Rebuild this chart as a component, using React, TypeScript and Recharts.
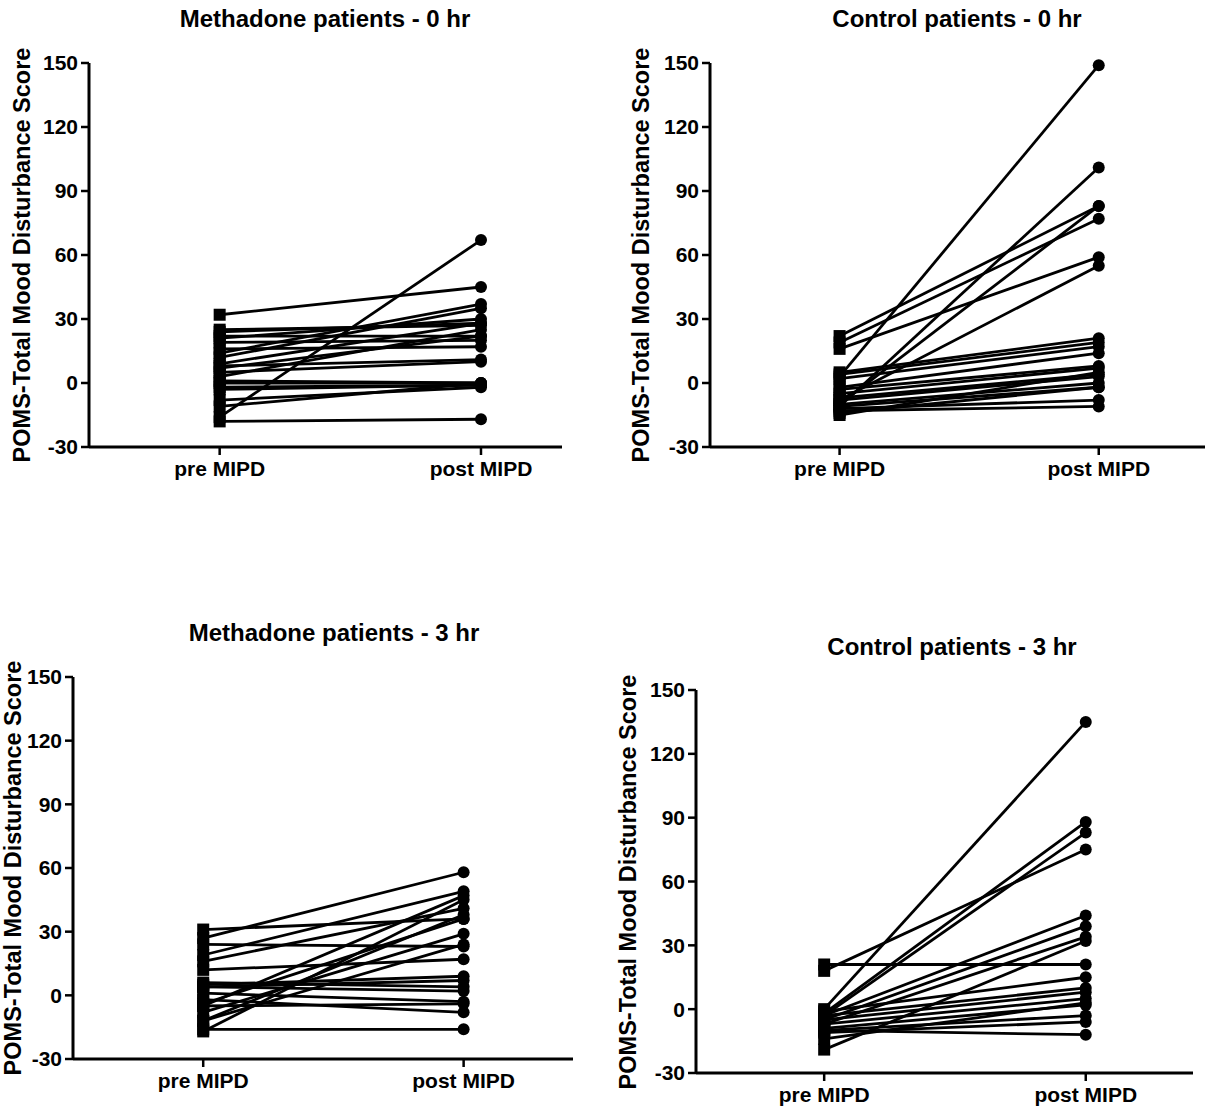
import React from 'react';
import { LineChart, Line, XAxis, YAxis } from 'recharts';

// x categories and y ticks shared by all four panels
const phases = ['pre MIPD', 'post MIPD'];
const yTicks = [-30, 0, 30, 60, 90, 120, 150];

// Methadone patients - 0 hr (one entry per patient)
const methadone0Pre = [32, -16, -18, 25, 24, 22, 21, 19, 14, 12, 9, 8, 7, 5, 3, 1, 0, -2, -3, -8, -11, 16];
const methadone0Post = [45, 67, -17, 27, 28, 22, 30, 20, 37, 35, 28, 11, 22, 10, 25, 0, 0, -1, -1, -2, 0, 17];

// Control patients - 0 hr
const control0Pre = [3, -11, -10, 22, 19, 16, -8, 5, 4, 2, -2, -3, -5, -7, -8, -10, -11, -12, -13, -14, -15];
const control0Post = [149, 101, 83, 83, 77, 59, 55, 21, 19, 17, 14, 8, 7, 4, 3, 0, -2, -8, -11, -2, 5];

// Methadone patients - 3 hr
const methadone3Pre = [31, 27, 24, 19, 16, 12, 4, 4, 1, -2, -4, -5, -8, -12, -12, -16, -17, 6, -5, 5];
const methadone3Post = [36, 58, 23, 49, 41, 17, 7, 2, -3, -8, 36, 47, 29, 24, 38, -16, 45, 4, -4, 9];

// Control patients - 3 hr
const control3Pre = [21, 18, 0, -2, -3, -3, -5, -7, -19, -1, -3, -5, -7, -9, -10, -11, -10, -14];
const control3Post = [21, 75, 135, 88, 83, 44, 39, 34, 32, 15, 10, 8, 5, 2, -3, -6, -12, 3];

const FONT = '"Liberation Sans", Arial, Helvetica, sans-serif';
const AXIS_W = 1; // yaxis width / xaxis height kept tiny so margins place the plot

// table the chart needs: one row per phase, one column per patient
function buildRows(pre: number[], post: number[]) {
  const a: any = { x: 0 };
  const b: any = { x: 1 };
  pre.forEach((v, i) => {
    a['s' + i] = v;
    b['s' + i] = post[i];
  });
  return [a, b];
}

// square for pre, circle for post
function PairDot(props: any) {
  const { cx, cy, payload, index } = props;
  if (cx == null || cy == null) return null;
  if (payload && payload.x === 0) {
    return <rect key={'q' + index} x={cx - 6} y={cy - 6} width={12} height={12} fill="#000" />;
  }
  return <circle key={'c' + index} cx={cx} cy={cy} r={6} fill="#000" />;
}

const tickStyle = { fill: '#000', fontSize: 21, fontWeight: 700, fontFamily: FONT };

interface PanelProps {
  box: { left: number; top: number; width: number; height: number };
  plot: { x0: number; x1: number; y0: number; y1: number };
  xDomain: [number, number];
  title: string;
  titleX: number;
  titleY: number;
  labelX: number;
  pre: number[];
  post: number[];
}

function Panel({ box, plot, xDomain, title, titleX, titleY, labelX, pre, post }: PanelProps) {
  const rows = buildRows(pre, post);
  const margin = {
    left: plot.x0 - box.left - AXIS_W,
    top: plot.y0 - box.top,
    right: box.left + box.width - plot.x1,
    bottom: box.top + box.height - plot.y1 - AXIS_W,
  };
  const labelY = (plot.y0 + plot.y1) / 2;
  return (
    <>
      <div style={{ position: 'absolute', left: box.left, top: box.top }}>
        <LineChart width={box.width} height={box.height} data={rows} margin={margin}>
          <XAxis
            type="number"
            dataKey="x"
            domain={xDomain}
            ticks={[0, 1]}
            allowDataOverflow
            tickFormatter={(v: number) => phases[v]}
            height={AXIS_W}
            axisLine={{ stroke: '#000', strokeWidth: 3 }}
            tickLine={{ stroke: '#000', strokeWidth: 2.5 }}
            tickSize={8}
            tickMargin={6}
            tick={tickStyle}
            interval={0}
          />
          <YAxis
            type="number"
            domain={[-30, 150]}
            ticks={yTicks}
            width={AXIS_W}
            axisLine={{ stroke: '#000', strokeWidth: 3 }}
            tickLine={{ stroke: '#000', strokeWidth: 2.5 }}
            tickSize={8}
            tickMargin={3}
            tick={tickStyle}
            interval={0}
          />
          {pre.map((_, i) => (
            <Line
              key={i}
              dataKey={'s' + i}
              type="linear"
              stroke="#000"
              strokeWidth={2.8}
              dot={PairDot}
              activeDot={false}
              isAnimationActive={false}
            />
          ))}
        </LineChart>
      </div>
      <div
        style={{
          position: 'absolute',
          left: titleX,
          top: titleY,
          transform: 'translateX(-50%)',
          whiteSpace: 'nowrap',
          fontFamily: FONT,
          fontWeight: 700,
          fontSize: 24,
          lineHeight: '24px',
          color: '#000',
        }}
      >
        {title}
      </div>
      <div
        style={{
          position: 'absolute',
          left: labelX,
          top: labelY,
          transform: 'translate(-50%, -50%) rotate(-90deg)',
          whiteSpace: 'nowrap',
          fontFamily: FONT,
          fontWeight: 700,
          fontSize: 23.5,
          lineHeight: '24px',
          color: '#000',
        }}
      >
        POMS-Total Mood Disturbance Score
      </div>
    </>
  );
}

export default function App() {
  return (
    <div style={{ position: 'absolute', left: 0, top: 0, width: 1211, height: 1110, overflow: 'hidden', background: '#fff' }}>
      <Panel
        box={{ left: 0, top: 0, width: 605, height: 560 }}
        plot={{ x0: 89, x1: 562, y0: 63, y1: 447 }}
        xDomain={[-0.5, 1.31]}
        title="Methadone patients - 0 hr"
        titleX={325}
        titleY={7}
        labelX={22}
        pre={methadone0Pre}
        post={methadone0Post}
      />
      <Panel
        box={{ left: 605, top: 0, width: 606, height: 560 }}
        plot={{ x0: 710, x1: 1205, y0: 63, y1: 447 }}
        xDomain={[-0.5, 1.41]}
        title="Control patients - 0 hr"
        titleX={957}
        titleY={7}
        labelX={641}
        pre={control0Pre}
        post={control0Post}
      />
      <Panel
        box={{ left: 0, top: 560, width: 605, height: 550 }}
        plot={{ x0: 73, x1: 573, y0: 677, y1: 1059 }}
        xDomain={[-0.5, 1.42]}
        title="Methadone patients - 3 hr"
        titleX={334}
        titleY={621}
        labelX={13}
        pre={methadone3Pre}
        post={methadone3Post}
      />
      <Panel
        box={{ left: 605, top: 560, width: 606, height: 550 }}
        plot={{ x0: 696, x1: 1193, y0: 690, y1: 1073 }}
        xDomain={[-0.49, 1.41]}
        title="Control patients - 3 hr"
        titleX={952}
        titleY={635}
        labelX={628}
        pre={control3Pre}
        post={control3Post}
      />
    </div>
  );
}
